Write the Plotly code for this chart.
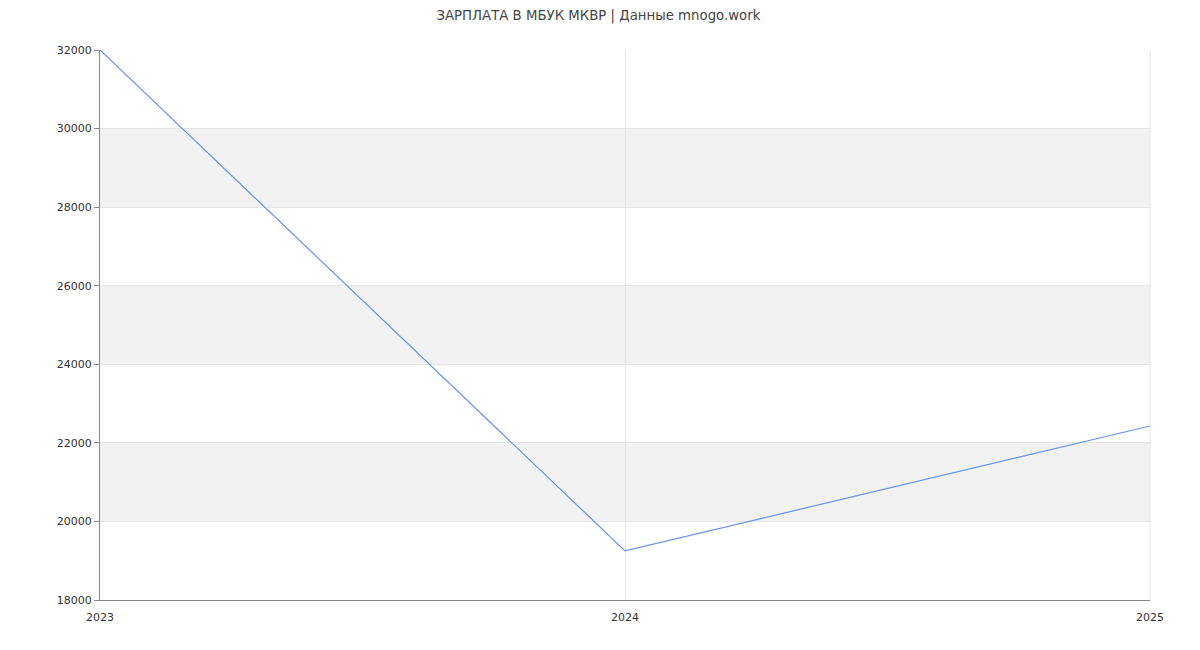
import plotly.graph_objects as go

years = [2023, 2024, 2025]
salary = [32000, 19250, 22430]
y_ticks = [18000, 20000, 22000, 24000, 26000, 28000, 30000, 32000]
band_ranges = [(20000, 22000), (24000, 26000), (28000, 30000)]
title_text = "ЗАРПЛАТА В МБУК МКВР | Данные mnogo.work"

fig = go.Figure()
fig.add_trace(go.Scatter(
    x=years, y=salary, mode="lines",
    line=dict(color="#6495ED", width=1.2),
    hoverinfo="x+y", showlegend=False,
))

for lo, hi in band_ranges:
    fig.add_shape(type="rect", xref="paper", yref="y", x0=0, x1=1, y0=lo, y1=hi,
                  fillcolor="#F2F2F2", line=dict(width=0), layer="below")

fig.update_layout(
    width=1200, height=650,
    margin=dict(l=92, r=58, t=42, b=58),
    paper_bgcolor="white", plot_bgcolor="white",
    font=dict(family="DejaVu Sans", size=11, color="#333333"),
    title=dict(text=title_text, x=0.492, xanchor="center", y=0.996, yanchor="top",
               font=dict(family="DejaVu Sans", size=13.3, color="#444444")),
    xaxis=dict(
        range=[2023, 2025], tickvals=years, ticktext=[str(y) for y in years],
        showgrid=True, gridcolor="#E6E6E6", gridwidth=1,
        showline=True, linecolor="#888888", linewidth=1,
        ticks="", zeroline=False, mirror=False, ticklabelstandoff=7,
        tickfont=dict(size=11, color="#333333"),
    ),
    yaxis=dict(
        range=[18000, 32000], tickvals=y_ticks, ticktext=[str(v) for v in y_ticks],
        showgrid=True, gridcolor="#E6E6E6", gridwidth=1,
        showline=True, linecolor="#888888", linewidth=1,
        ticks="outside", ticklen=5, tickcolor="#888888",
        zeroline=False, tickfont=dict(size=11, color="#333333"),
    ),
)
fig.add_shape(type="line", xref="paper", yref="paper", x0=1, x1=1, y0=0, y1=1,
              line=dict(color="#E6E6E6", width=1), layer="below")

fig.write_html("out.html")
